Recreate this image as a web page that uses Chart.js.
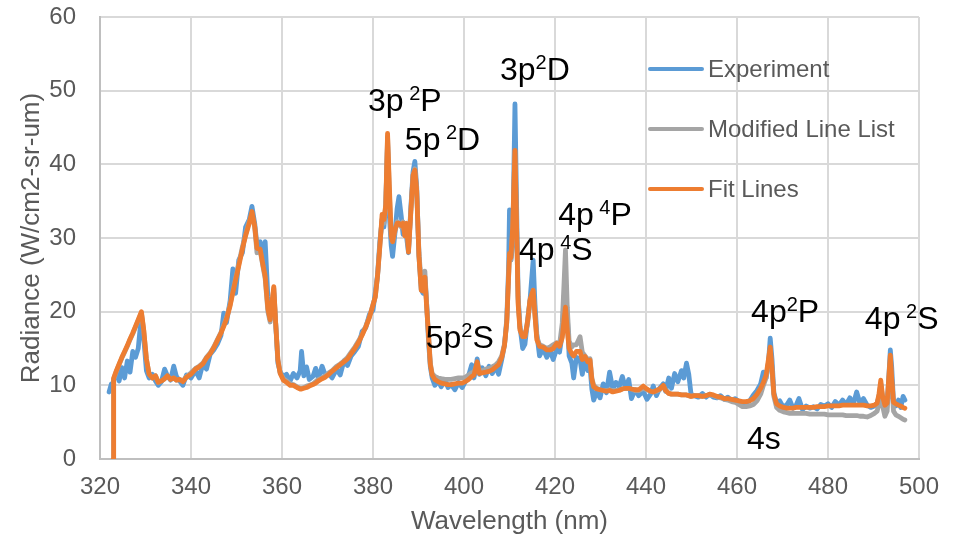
<!DOCTYPE html>
<html>
<head>
<meta charset="utf-8">
<title>Radiance spectrum</title>
<script src="https://cdn.jsdelivr.net/npm/chart.js@4.4.1/dist/chart.umd.min.js"></script>
<style>
    html, body { margin: 0; padding: 0; background: #fff; }
    #spectrumChart { display: block; }
</style>
</head>
<body>
<canvas id="spectrumChart" width="955" height="539"></canvas>
<script>
// Wavelength samples (nm)
const wavelengths = [
    322.0, 322.5, 322.9, 323.0, 323.6, 324.2, 324.8, 325.4, 326.0, 326.6,
    327.2, 327.8, 328.4, 329.1, 329.6, 330.2, 330.8, 331.5, 332.2, 332.8,
    333.5, 334.2, 334.8, 335.5, 336.2, 336.8, 337.5, 338.2, 339.0, 340.0,
    341.0, 341.8, 342.6, 343.4, 344.2, 345.0, 345.8, 346.6, 347.2, 347.8,
    348.6, 349.2, 349.8, 350.5, 351.3, 352.0, 352.8, 353.4, 354.0, 354.5,
    355.2, 355.8, 356.3, 356.9, 357.4, 357.9, 358.2, 358.6, 359.1, 359.6,
    360.3, 361.0, 361.8, 362.5, 363.3, 364.0, 364.3, 364.8, 365.4, 366.0,
    366.8, 367.4, 368.0, 368.8, 369.5, 370.3, 371.0, 372.0, 372.8, 373.6,
    374.4, 375.2, 376.0, 376.8, 377.6, 378.4, 379.2, 380.0, 380.5, 381.0,
    381.5, 382.0, 382.4, 382.8, 383.2, 383.6, 384.0, 384.3, 384.8, 385.3,
    385.7, 386.2, 386.6, 387.0, 387.4, 387.8, 388.3, 388.8, 389.2, 389.6,
    390.1, 390.6, 391.0, 391.4, 391.8, 392.2, 392.6, 393.0, 393.6, 394.3,
    395.0, 395.8, 396.5, 397.2, 398.0, 398.8, 399.6, 400.3, 401.0, 401.7,
    402.2, 402.9, 403.4, 404.0, 404.8, 405.5, 406.2, 407.0, 407.6, 408.3,
    408.9, 409.4, 409.8, 410.0, 410.3, 410.7, 411.2, 411.6, 411.9, 412.3,
    412.9, 413.4, 414.0, 414.5, 415.2, 415.6, 416.0, 416.6, 417.4, 418.2,
    418.9, 419.6, 420.4, 421.0, 421.6, 422.0, 422.3, 422.7, 423.1, 423.7,
    424.1, 424.7, 425.5, 426.0, 426.6, 427.2, 427.7, 428.1, 428.5, 429.2,
    429.9, 430.6, 431.3, 432.0, 432.7, 433.4, 434.1, 434.8, 435.5, 436.2,
    436.8, 437.6, 438.4, 439.4, 440.2, 441.0, 441.6, 442.3, 443.0, 443.8,
    444.3, 445.0, 445.6, 446.3, 447.0, 447.8, 448.3, 448.9, 449.4, 449.9,
    450.6, 451.5, 452.4, 453.2, 454.0, 454.8, 455.6, 456.4, 457.2, 458.0,
    458.8, 459.6, 460.4, 461.2, 462.0, 462.8, 463.6, 464.4, 465.2, 465.8,
    466.4, 466.9, 467.3, 467.7, 468.1, 468.7, 469.4, 470.2, 471.0, 471.6,
    472.3, 473.0, 473.6, 474.4, 475.2, 476.0, 476.8, 477.6, 478.4, 479.2,
    480.0, 480.8, 481.6, 482.4, 483.2, 484.0, 484.8, 485.6, 486.3, 487.0,
    487.8, 488.6, 489.4, 490.2, 490.8, 491.2, 491.6, 492.0, 492.5, 493.0,
    493.3, 493.7, 494.0, 494.4, 494.9, 495.5, 496.0, 496.5, 496.9
];

// Radiance (W/cm2-sr-um), one value per wavelength
const experiment = [
    9.1, 10.2, 10.0, 10.8, 11.6, 10.6, 12.4, 11.0, 13.3, 11.8,
    14.6, 13.8, 15.0, 19.5, 16.5, 12.0, 11.0, 11.5, 10.6, 10.0,
    10.5, 12.2, 11.3, 10.7, 12.6, 11.2, 10.6, 10.0, 11.4, 11.0,
    12.0, 11.0, 12.9, 12.2, 14.2, 14.8, 15.6, 16.8, 19.8, 18.5,
    21.5, 25.8, 22.5, 27.0, 28.0, 31.5, 32.5, 34.3, 32.0, 29.0,
    29.5, 27.0, 29.5, 22.0, 19.0, 20.0, 22.5, 18.5, 13.0, 11.8,
    11.2, 11.5, 10.6, 11.6, 11.0, 12.0, 14.6, 11.3, 12.5, 10.8,
    11.2, 12.3, 10.9, 12.6, 11.4, 11.6, 11.0, 12.2, 11.4, 13.3,
    12.7, 14.0, 14.6, 15.3, 17.3, 17.8, 19.6, 20.2, 22.6, 25.0,
    29.5, 32.5, 31.5, 34.5, 43.0, 33.0, 29.0, 27.5, 30.5, 34.0,
    35.6, 33.0, 30.5, 31.0, 30.0, 28.0, 34.0, 39.0, 40.4, 37.0,
    27.5, 23.0, 22.5, 24.8, 21.0, 16.0, 12.5, 11.0, 10.0, 10.6,
    9.8, 10.8, 9.7, 10.1, 9.4, 10.4, 9.7, 10.5, 11.3, 12.8,
    11.0, 13.6, 11.5, 12.4, 11.3, 12.6, 11.6, 12.5, 11.5, 13.5,
    15.5, 19.0, 26.0, 33.8, 27.0, 29.0, 48.2, 33.0, 22.0, 18.0,
    15.0, 15.6, 19.0, 21.5, 27.0, 21.0, 17.0, 14.0, 15.0, 13.8,
    14.8, 13.5, 15.0, 14.5, 17.0, 22.0, 23.5, 19.5, 14.0, 13.0,
    11.0, 13.8, 13.5, 11.5, 13.8, 12.0, 12.5, 9.5, 8.0, 9.2,
    8.3, 10.2, 9.0, 11.8, 9.5, 10.4, 9.8, 11.2, 9.6, 10.8,
    8.2, 9.4, 8.6, 9.2, 8.1, 8.8, 9.9, 8.6, 9.6, 10.2,
    9.2, 11.0, 9.6, 11.6, 10.5, 12.0, 11.0, 13.0, 11.5, 8.8,
    8.6, 8.4, 8.9, 8.4, 8.8, 8.4, 8.3, 8.6, 8.1, 8.4,
    7.9, 8.2, 7.8, 7.6, 7.7, 7.9, 8.7, 9.3, 10.2, 11.8,
    11.0, 13.0, 16.4, 13.5, 9.0, 7.6, 7.9, 7.0, 7.4, 8.0,
    6.9, 7.3, 8.2, 6.7, 7.2, 6.9, 7.1, 6.8, 7.4, 7.2,
    7.5, 7.0, 7.8, 7.3, 8.0, 7.4, 8.3, 7.5, 9.1, 7.6,
    8.2, 7.3, 7.0, 7.2, 7.6, 8.5, 10.2, 8.2, 6.8, 7.5,
    10.5, 14.8, 12.5, 7.8, 7.2, 8.0, 7.0, 8.5, 8.0
];

const modifiedLineList = [
    null, null, 0, 10.8, 11.9, 12.8, 13.7, 14.5, 15.3, 16.2,
    17.0, 17.9, 18.8, 19.8, 17.5, 13.5, 11.5, 11.0, 11.3, 10.4,
    10.6, 10.9, 11.3, 10.8, 11.0, 10.7, 10.8, 10.6, 11.2, 11.7,
    12.3, 12.6, 13.0, 13.8, 14.4, 15.2, 16.2, 17.2, 18.2, 19.2,
    21.0, 22.8, 24.5, 26.5, 28.8, 30.5, 32.3, 33.2, 31.5, 28.0,
    28.3, 26.2, 24.5, 20.0, 18.6, 21.5, 23.2, 18.5, 13.5, 11.7,
    10.9, 10.6, 10.2, 10.1, 9.8, 9.6, 9.6, 9.7, 9.9, 10.0,
    10.2, 10.5, 10.8, 11.0, 11.3, 11.7, 12.0, 12.6, 12.9, 13.3,
    13.8, 14.5, 15.2, 16.0, 16.9, 18.0, 19.3, 21.0, 22.0, 24.8,
    29.0, 32.6, 32.0, 34.0, 43.8, 36.0, 30.5, 29.5, 30.8, 32.2,
    32.0, 31.5, 32.2, 30.5, 31.8, 28.5, 33.5, 38.5, 39.4, 36.5,
    28.0, 23.8, 23.5, 25.5, 21.0, 17.0, 13.0, 11.6, 11.2, 11.0,
    10.9, 10.8, 10.8, 10.8, 10.9, 11.0, 11.0, 11.1, 11.4, 11.7,
    11.8, 12.9, 12.0, 12.0, 12.2, 12.3, 12.5, 12.8, 13.2, 14.0,
    15.6, 18.5, 24.5, 27.5, 27.0, 31.0, 41.8, 30.0, 21.5, 17.8,
    16.8, 16.6, 18.5, 21.4, 22.9, 19.5, 16.6, 15.5, 15.3, 15.0,
    15.2, 15.5, 15.8, 15.5, 18.5, 24.0, 28.4, 20.5, 16.0, 15.2,
    15.5, 15.5, 16.6, 14.5, 14.0, 13.5, 13.6, 11.0, 10.0, 9.6,
    9.4, 9.3, 9.3, 9.4, 9.3, 9.3, 9.4, 9.5, 9.6, 9.6,
    9.5, 9.3, 9.3, 9.6, 9.4, 9.2, 9.1, 9.2, 9.4, 9.9,
    9.4, 8.9, 8.8, 8.8, 8.8, 8.7, 8.7, 8.7, 8.6, 8.5,
    8.6, 8.6, 8.5, 8.6, 8.7, 8.6, 8.4, 8.3, 8.1, 8.0,
    7.8, 7.7, 7.4, 7.1, 7.1, 7.2, 7.4, 7.9, 8.8, 10.0,
    11.0, 13.0, 14.8, 12.0, 8.5, 7.0, 6.6, 6.4, 6.3, 6.2,
    6.2, 6.2, 6.2, 6.2, 6.2, 6.1, 6.1, 6.1, 6.1, 6.1,
    6.0, 6.0, 6.0, 6.0, 6.0, 5.9, 5.9, 5.9, 5.9, 5.8,
    5.8, 5.7, 5.9, 6.2, 6.5, 7.5, 9.0, 7.2, 5.8, 6.5,
    9.5, 13.5, 10.5, 6.5, 6.0, 5.8, 5.6, 5.4, 5.3
];

const fitLines = [
    null, null, 0, 11.0, 12.0, 12.9, 13.8, 14.6, 15.4, 16.3,
    17.1, 18.0, 18.9, 20.0, 17.6, 13.6, 11.5, 11.0, 11.3, 10.4,
    10.6, 10.9, 11.3, 10.8, 11.0, 10.7, 10.8, 10.5, 11.1, 11.5,
    12.2, 12.5, 12.9, 13.7, 14.3, 15.1, 16.1, 17.1, 18.0, 19.0,
    20.8, 22.6, 24.3, 26.2, 28.5, 30.3, 32.0, 33.6, 31.6, 28.6,
    28.5, 26.4, 24.8, 20.4, 18.9, 21.8, 23.4, 18.6, 13.4, 11.6,
    10.7, 10.4, 10.0, 10.0, 9.7, 9.5, 9.5, 9.6, 9.7, 9.9,
    10.1, 10.3, 10.6, 10.9, 11.1, 11.5, 11.9, 12.4, 12.8, 13.2,
    13.6, 14.3, 15.0, 15.8, 16.8, 17.9, 19.2, 20.9, 22.0, 24.9,
    28.8, 33.2, 32.5, 34.5, 44.2, 37.0, 30.2, 29.5, 31.0, 32.0,
    32.0, 31.7, 32.0, 30.3, 32.0, 28.1, 33.3, 38.5, 39.2, 36.5,
    27.5, 22.9, 22.8, 24.7, 20.5, 16.8, 12.8, 11.4, 10.8, 10.5,
    10.3, 10.2, 10.1, 10.1, 10.2, 10.3, 10.3, 10.5, 10.8, 11.2,
    11.4, 13.2, 11.6, 11.7, 11.8, 11.9, 12.1, 12.5, 12.8, 13.8,
    15.4, 18.6, 24.8, 27.9, 27.3, 31.5, 41.9, 30.5, 21.0, 17.5,
    16.6, 16.6, 18.8, 21.6, 22.9, 19.5, 16.2, 15.3, 15.2, 14.8,
    14.8, 15.0, 15.7, 15.3, 16.5, 19.0, 20.6, 17.5, 15.0, 14.3,
    14.0, 14.6, 14.6, 13.5, 13.9, 13.2, 13.4, 10.8, 9.8, 9.5,
    9.4, 9.3, 9.2, 9.3, 9.1, 9.2, 9.3, 9.5, 9.6, 9.6,
    9.5, 9.4, 9.4, 9.9, 9.5, 9.2, 9.1, 9.3, 9.5, 10.0,
    9.3, 8.9, 8.8, 8.8, 8.8, 8.7, 8.7, 8.7, 8.6, 8.5,
    8.6, 8.6, 8.5, 8.6, 8.8, 8.7, 8.5, 8.4, 8.2, 8.2,
    8.1, 8.0, 7.9, 7.8, 7.8, 7.9, 8.2, 8.8, 9.6, 10.4,
    11.4, 13.5, 15.2, 12.3, 8.8, 7.5, 7.2, 7.0, 6.9, 6.9,
    6.9, 7.0, 7.0, 7.0, 7.0, 7.0, 7.0, 7.1, 7.1, 7.1,
    7.2, 7.2, 7.2, 7.2, 7.3, 7.3, 7.3, 7.3, 7.3, 7.3,
    7.3, 7.2, 7.2, 7.3, 7.6, 8.8, 10.7, 8.5, 7.3, 7.6,
    10.5, 14.1, 11.0, 7.7, 7.5, 7.3, 7.2, 7.0, 6.9
];

const seriesNames = ['Experiment', 'Modified Line List', 'Fit Lines'];
const xTicks = [320, 340, 360, 380, 400, 420, 440, 460, 480, 500];
const yTicks = [0, 10, 20, 30, 40, 50, 60];

// Transition labels: [text, superscript?] pieces, anchored at (nm, radiance)
const transitionLabels = [
    { nm: 378.9, value: 47.2, parts: [['3p', false], [' 2', true], ['P', false]] },
    { nm: 387.0, value: 41.9, parts: [['5p', false], [' 2', true], ['D', false]] },
    { nm: 407.9, value: 51.4, parts: [['3p', false], ['2', true], ['D', false]] },
    { nm: 420.7, value: 31.8, parts: [['4p', false], [' 4', true], ['P', false]] },
    { nm: 412.1, value: 27.0, parts: [['4p', false], [' 4', true], ['S', false]] },
    { nm: 391.6, value: 15.1, parts: [['5p', false], ['2', true], ['S', false]] },
    { nm: 463.1, value: 18.6, parts: [['4p', false], ['2', true], ['P', false]] },
    { nm: 488.1, value: 17.6, parts: [['4p', false], [' 2', true], ['S', false]] },
    { nm: 462.2, value: 1.4, parts: [['4s', false]] }
];

const FONT = '"Liberation Sans", Arial, sans-serif';
const TEXT_GREY = '#595959';

class SpectrumChart {
    constructor(canvasId) {
        this.canvas = document.getElementById(canvasId);
        this.chart = null;
        this.init();
    }

    init() {
        Chart.defaults.font.family = FONT;
        this.setupChart();
    }

    buildDatasets() {
        const toPoints = values => wavelengths.map((w, i) => ({ x: w, y: values[i] }));
        const styles = [
            { color: '#5B9BD5', order: 3 },
            { color: '#A5A5A5', order: 2 },
            { color: '#ED7D31', order: 1 }
        ];
        return [experiment, modifiedLineList, fitLines].map((values, i) => ({
            label: seriesNames[i],
            data: toPoints(values),
            borderColor: styles[i].color,
            backgroundColor: styles[i].color,
            order: styles[i].order,
            borderWidth: 4.8,
            borderJoinStyle: 'round',
            borderCapStyle: 'round',
            pointRadius: 0,
            tension: 0
        }));
    }

    // Legend sits inside the plot, on the right, like the original
    legendPlugin() {
        return {
            id: 'sideLegend',
            afterDraw(chart) {
                const ctx = chart.ctx;
                ctx.save();
                chart.data.datasets.forEach((ds, i) => {
                    const y = 69 + i * 60;
                    ctx.strokeStyle = ds.borderColor;
                    ctx.lineWidth = 4;
                    ctx.lineCap = 'round';
                    ctx.beginPath();
                    ctx.moveTo(650, y);
                    ctx.lineTo(702, y);
                    ctx.stroke();
                    ctx.fillStyle = TEXT_GREY;
                    ctx.font = '24px ' + FONT;
                    ctx.textBaseline = 'middle';
                    ctx.fillText(ds.label, 708, y + 1);
                });
                ctx.restore();
            }
        };
    }

    labelPlugin() {
        return {
            id: 'transitionLabels',
            afterDatasetsDraw(chart) {
                const ctx = chart.ctx;
                const xs = chart.scales.x;
                const ys = chart.scales.y;
                ctx.save();
                ctx.fillStyle = '#000';
                ctx.textBaseline = 'alphabetic';
                transitionLabels.forEach(label => {
                    let x = xs.getPixelForValue(label.nm);
                    const y = ys.getPixelForValue(label.value);
                    label.parts.forEach(([text, sup]) => {
                        ctx.font = (sup ? '20px ' : '32px ') + FONT;
                        ctx.fillText(text, x, sup ? y - 11 : y);
                        x += ctx.measureText(text).width;
                    });
                });
                ctx.restore();
            }
        };
    }

    setupChart() {
        this.chart = new Chart(this.canvas.getContext('2d'), {
            type: 'line',
            data: { datasets: this.buildDatasets() },
            options: {
                responsive: false,
                animation: false,
                devicePixelRatio: 1,
                layout: { padding: { left: 0, top: 17, right: 36, bottom: 0 } },
                plugins: {
                    legend: { display: false },
                    tooltip: { enabled: false }
                },
                scales: {
                    x: {
                        type: 'linear',
                        min: 320,
                        max: 500,
                        afterBuildTicks: s => { s.ticks = xTicks.map(v => ({ value: v })); },
                        afterFit: s => { s.height = 80; s.paddingRight = 0; s.paddingLeft = 0; },
                        ticks: { color: TEXT_GREY, font: { size: 24 }, padding: 14, maxRotation: 0 },
                        grid: { color: '#D9D9D9', lineWidth: 2, drawTicks: false },
                        border: { color: '#BFBFBF', width: 2 },
                        title: {
                            display: true,
                            text: 'Wavelength (nm)',
                            color: TEXT_GREY,
                            font: { size: 26 },
                            padding: { top: 0, bottom: 2 }
                        }
                    },
                    y: {
                        type: 'linear',
                        min: 0,
                        max: 60,
                        afterBuildTicks: s => { s.ticks = yTicks.map(v => ({ value: v })); },
                        afterFit: s => { s.width = 100; s.paddingTop = 0; s.paddingBottom = 0; },
                        ticks: { color: TEXT_GREY, font: { size: 24 }, padding: 24 },
                        grid: { color: '#D9D9D9', lineWidth: 2, drawTicks: false },
                        border: { color: '#BFBFBF', width: 2 },
                        title: {
                            display: true,
                            text: 'Radiance (W/cm2-sr-um)',
                            color: TEXT_GREY,
                            font: { size: 26 },
                            padding: { top: 16, bottom: 0 }
                        }
                    }
                }
            },
            plugins: [this.legendPlugin(), this.labelPlugin()]
        });
    }
}

document.addEventListener('DOMContentLoaded', () => {
    window.spectrumChart = new SpectrumChart('spectrumChart');
});
</script>
</body>
</html>
